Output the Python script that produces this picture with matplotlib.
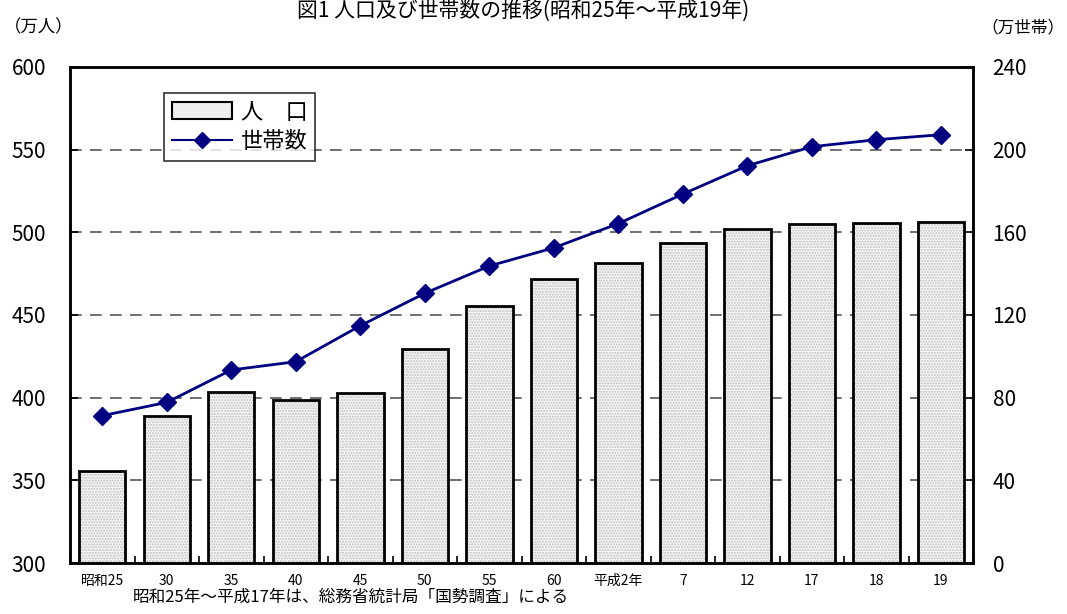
import numpy as np
import matplotlib
matplotlib.use('Agg')
import matplotlib.pyplot as plt
from matplotlib.patches import Patch
from matplotlib.lines import Line2D

plt.rcParams['font.family'] = ['Noto Sans CJK JP', 'DejaVu Sans']

# Datos
categorias = ['昭和25', '30', '35', '40', '45', '50', '55', '60', '平成2年', '7', '12', '17', '18', '19']
poblacion = [355.8, 388.9, 403.4, 398.7, 402.6, 429.2, 455.6, 471.9, 481.2, 493.5, 501.7, 505.1, 505.7, 506.0]  # 万人
hogares = [71.3, 77.7, 93.4, 97.4, 114.8, 130.5, 143.7, 152.5, 164.2, 178.5, 192.2, 201.4, 204.8, 207.2]  # 万世帯

x = np.arange(len(categorias))

fig = plt.figure(figsize=(10.67, 6.14), dpi=100)
ax = fig.add_axes([0.0656, 0.083, 0.8464, 0.808])
ax2 = ax.twinx()

# Rejilla
for v in [350, 400, 450, 500, 550]:
    ax.axhline(v, color='#555555', lw=1.2, ls=(0, (7, 5)), zorder=0)

# Barras: relleno punteado + borde negro
ax.bar(x, poblacion, width=0.72, bottom=0, color='#f6f6f6', edgecolor='#c0c0c0',
       hatch='......', linewidth=0, zorder=2)
ax.bar(x, poblacion, width=0.72, fill=False, edgecolor='black', linewidth=2, zorder=3)

ax2.plot(x, hogares, color='#000080', lw=2, marker='D', markersize=9, zorder=4)

ax.set_xlim(-0.5, len(categorias) - 0.5)
ax.set_ylim(300, 600)
ax2.set_ylim(0, 240)
ax.set_yticks(np.arange(300, 601, 50))
ax2.set_yticks(np.arange(0, 241, 40))

ax.set_xticks(x)
ax.set_xticklabels(categorias, fontsize=10)
ax.set_xticks(np.arange(-0.5, len(categorias), 1), minor=True)
ax.tick_params(axis='x', which='major', length=0, pad=8)
ax.tick_params(axis='x', which='minor', direction='in', length=5, width=1.2)
ax.tick_params(axis='y', direction='in', length=6, width=1.2, labelsize=15, pad=17)
ax2.tick_params(axis='y', direction='in', length=6, width=1.2, labelsize=15, pad=14)

for a in (ax, ax2):
    for s in a.spines.values():
        s.set_linewidth(1.8)

# Leyenda
h_bar = Patch(facecolor='#eeeeee', edgecolor='black', linewidth=1.5)
h_lin = Line2D([], [], color='#000080', lw=1.5, marker='D', markersize=8)
leg = ax2.legend([h_bar, h_lin], ['人　口', '世帯数'], loc='upper left',
                 bbox_to_anchor=(0.104, 0.948), borderaxespad=0, fontsize=16,
                 frameon=True, fancybox=False, edgecolor='black', handlelength=2.7,
                 handleheight=0.8, borderpad=0.35, labelspacing=0.3,
                 handletextpad=0.4)
leg.get_frame().set_linewidth(1.2)

# Textos
fig.text(0.49, 0.999, '図1 人口及び世帯数の推移(昭和25年～平成19年)', ha='center', va='top', fontsize=15)
fig.text(0.004, 0.955, '（万人）', ha='left', va='center', fontsize=12.5)
fig.text(0.998, 0.955, '（万世帯）', ha='right', va='center', fontsize=12)
fig.text(0.124, 0.028, '昭和25年～平成17年は、総務省統計局「国勢調査」による', ha='left', va='center', fontsize=12)

plt.savefig('out.png', dpi=100)
